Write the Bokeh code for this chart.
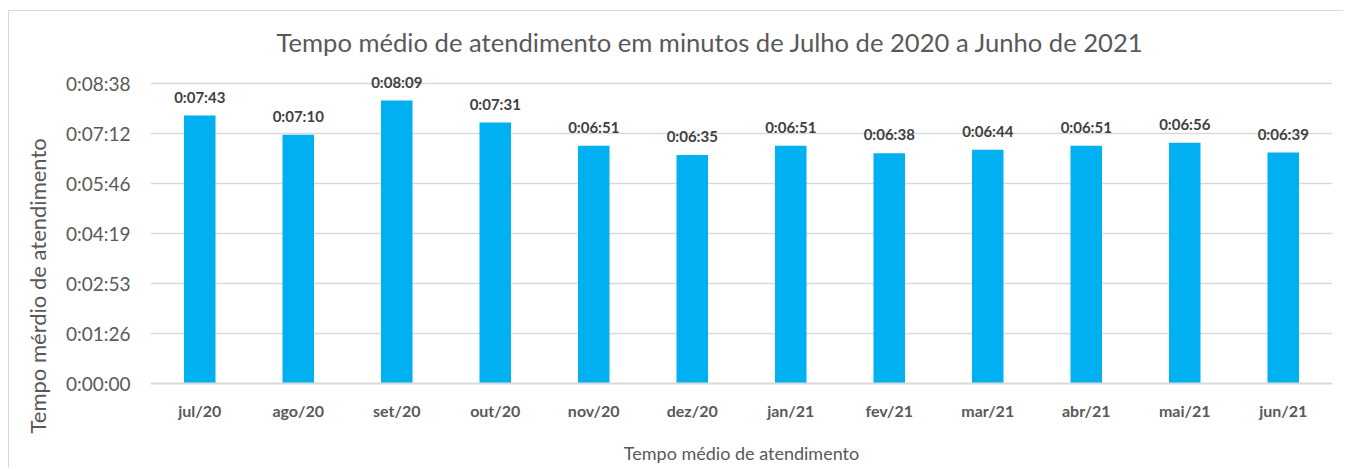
from bokeh.plotting import figure
from bokeh.models import (FixedTicker, Title, ColumnDataSource, FactorRange, Range1d,
                          LabelSet, LinearAxis)
from bokeh.core.properties import value
from bokeh.embed import file_html
from bokeh.resources import INLINE

months = ["jul/20", "ago/20", "set/20", "out/20", "nov/20", "dez/20",
          "jan/21", "fev/21", "mar/21", "abr/21", "mai/21", "jun/21"]
values_seconds = [463, 430, 489, 451, 411, 395, 411, 398, 404, 411, 416, 399]
value_labels = ["0:07:43", "0:07:10", "0:08:09", "0:07:31", "0:06:51", "0:06:35",
                "0:06:51", "0:06:38", "0:06:44", "0:06:51", "0:06:56", "0:06:39"]
y_ticks = [0, 86.4, 172.8, 259.2, 345.6, 432.0, 518.4]
y_tick_labels = ["0:00:00", "0:01:26", "0:02:53", "0:04:19", "0:05:46", "0:07:12", "0:08:38"]

title_text = "Tempo médio de atendimento em minutos de Julho de 2020 a Junho de 2021"
y_title = "Tempo mérdio de atendimento"
x_title = "Tempo médio de atendimento"

FONT = "Lato"
GRAY = "#595959"

src = ColumnDataSource(dict(m=months, v=values_seconds, lab=value_labels))

p = figure(width=1335, height=458, output_backend="svg", toolbar_location=None,
           x_range=FactorRange(*months, range_padding=0),
           y_range=Range1d(0, y_ticks[-1] * 316 / 300),
           min_border_left=137, min_border_right=12, min_border_top=56, min_border_bottom=86,
           title=title_text)

p.styles = {"margin-left": "8px", "margin-top": "10px",
            "border-left": "1px solid #D9D9D9", "border-top": "1px solid #D9D9D9"}
p.outline_line_color = None

p.title.align = "left"
p.title.offset = 126
p.title.text_font = FONT
p.title.text_font_size = "25.6px"
p.title.text_font_style = "normal"
p.title.text_color = GRAY
p.title.standoff = 21

p.vbar(x="m", top="v", width=0.32, source=src, color="#00B0F0", line_color=None)
p.add_layout(LabelSet(x="m", y="v", text="lab", source=src, text_align="center",
                      text_baseline="middle", y_offset=19, text_font=value(FONT),
                      text_font_size="15px", text_font_style="bold", text_color="#404040"))

# y axis
p.yaxis.ticker = FixedTicker(ticks=y_ticks)
p.yaxis.major_label_overrides = {t: l for t, l in zip(y_ticks, y_tick_labels)}
p.yaxis.axis_line_color = None
p.yaxis.major_tick_line_color = None
p.yaxis.minor_tick_line_color = None
p.yaxis.major_tick_out = 0
p.yaxis.minor_tick_out = 0
p.yaxis.major_label_standoff = 20
p.yaxis.major_label_text_font = FONT
p.yaxis.major_label_text_font_size = "19px"
p.yaxis.major_label_text_color = GRAY

# empty spacer axis between tick labels and the vertical title
p.add_layout(LinearAxis(ticker=FixedTicker(ticks=[]), axis_line_color=None,
                        major_tick_line_color=None, minor_tick_line_color=None,
                        major_tick_out=0, minor_tick_out=0, major_label_standoff=6),
             "left")

# x axis
p.xaxis.axis_line_color = "#D9D9D9"
p.xaxis.axis_line_width = 2
p.xaxis.major_tick_line_color = None
p.xaxis.minor_tick_line_color = None
p.xaxis.major_tick_out = 0
p.xaxis.minor_tick_out = 0
p.xaxis.major_label_standoff = 17
p.xaxis.major_label_text_font = FONT
p.xaxis.major_label_text_font_size = "16px"
p.xaxis.major_label_text_font_style = "bold"
p.xaxis.major_label_text_color = GRAY
p.xaxis.axis_label = x_title
p.xaxis.axis_label_text_font = FONT
p.xaxis.axis_label_text_font_size = "18px"
p.xaxis.axis_label_text_font_style = "normal"
p.xaxis.axis_label_text_color = GRAY
p.xaxis.axis_label_standoff = 19

p.xgrid.grid_line_color = None
p.ygrid.grid_line_color = "#D9D9D9"
p.ygrid.grid_line_width = 1.5

p.add_layout(Title(text=y_title, align="left", offset=-50, standoff=24,
                   text_font=FONT, text_font_size="22px", text_font_style="normal",
                   text_color=GRAY), "left")

open("out.html", "w").write(file_html(p, INLINE))
